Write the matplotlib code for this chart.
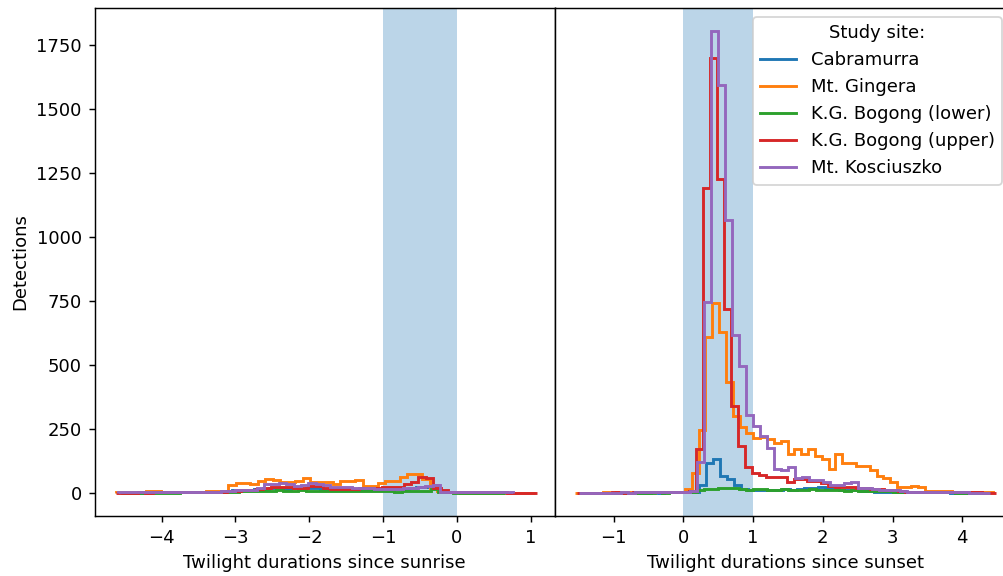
import numpy as np
import matplotlib
matplotlib.use("Agg")
import matplotlib.pyplot as plt
from matplotlib.lines import Line2D

sites = ["Cabramurra", "Mt. Gingera", "K.G. Bogong (lower)",
         "K.G. Bogong (upper)", "Mt. Kosciuszko"]
colors = ["C0", "C1", "C2", "C3", "C4"]

# histogram bin starts / widths per site (sunrise panel, sunset panel)
sunrise_start = [-4.55, -4.62, -4.55, -4.62, -4.59]
sunrise_width = [0.1, 0.1013, 0.1, 0.1, 0.0991]
sunset_start = [-1.47, -1.55, -1.5, -1.52, -1.5]
sunset_width = [0.1, 0.0982, 0.1, 0.1, 0.1]

# detections per bin, relative to sunrise
rise_cabramurra = [1, 1, 1, 1, 2, 2, 2, 2, 2, 3, 3, 3, 4, 5,
                   6, 10, 12, 12, 14, 16, 20, 18, 16, 18, 16, 18, 20, 16, 15,
                   14, 14, 13, 14, 12, 13, 12, 12, 14, 16, 18, 22, 25, 31, 8,
                   3, 2, 2, 2, 1, 1, 1, 1, 1]
rise_gingera = [2, 2, 3, 3, 6, 8, 5, 3, 3, 4, 3, 5, 8, 8, 6,
                31, 40, 40, 35, 48, 55, 51, 42, 42, 48, 57, 42, 42, 42, 35,
                48, 48, 51, 29, 29, 40, 48, 48, 64, 74, 74, 53, 20, 8, 3,
                2, 1, 1, 1, 1, 1, 1, 1, 1, 1, 1]
rise_bogong_lower = [0, 0, 1, 1, 1, 1, 1, 1, 2, 2, 2, 3, 3, 4, 4,
                     5, 6, 6, 7, 8, 9, 10, 9, 8, 10, 9, 8, 9, 7, 8, 7, 6, 7,
                     6, 8, 7, 6, 5, 6, 7, 8, 9,
                     14, 3, 2, 1, 1, 1, 1, 1, 0, 0]
rise_bogong_upper = [1, 1, 1, 2, 1, 2, 2, 2, 2, 3, 3, 3, 4, 5, 5, 6,
                     8, 10, 12, 15, 18, 25, 22, 22, 18, 18, 27, 27, 18, 14,
                     14, 14, 14, 18, 18, 18, 22, 22, 22, 34, 44, 61, 60, 18,
                     12, 5, 3, 3, 2, 2, 2, 2, 2, 1, 1, 1, 1]
rise_kosciuszko = [2, 2, 2, 3, 3, 3, 2, 3, 3, 3, 3, 4, 4, 5, 6,
                   8, 10, 12, 12, 18, 35, 35, 40, 34, 28, 31, 38, 35, 30, 22,
                   22, 22, 18, 18, 18, 14, 14, 14, 14, 18, 18, 25, 29, 30, 5,
                   3, 3, 3, 2, 2, 2, 2, 2, 2]

# detections per bin, relative to sunset
set_cabramurra = [0, 0, 1, 0, 1, 1, 1, 1, 1, 1, 2, 1, 2, 2, 2, 2,
                  3, 31, 116, 131, 66, 53, 31, 14, 10, 10, 12, 10, 12, 14,
                  12, 14, 18, 20, 22, 18, 14, 12, 12, 10, 8, 6, 5, 5, 4, 4,
                  3, 3, 3, 2, 2, 2, 2, 1, 1, 1, 1, 1]
set_gingera = [1, 1, 1, 1, 2, 1, 2, 2, 1, 2, 2, 3, 2, 3, 3, 5,
               14, 79, 246, 611, 742, 630, 433, 300, 259, 234, 214, 220, 210,
               197, 203, 152, 172, 152, 172, 146, 133, 92, 152, 116, 116, 105,
               105, 90, 68, 57, 44, 22, 22, 27, 22, 9, 9, 6, 6, 4, 4, 3, 3,
               2, 2]
set_bogong_lower = [0, 0, 0, 1, 0, 1, 1, 1, 1, 1, 1, 2, 1, 2, 2,
                    2, 4, 10, 14, 16, 18, 20, 18, 15, 12, 14, 15, 12, 10, 14,
                    12, 10, 13, 15, 11, 13, 10, 12, 9, 11, 8, 9, 7, 6, 6, 5,
                    4, 4, 3, 3, 3, 2, 2, 2, 1, 1, 1, 1, 1]
set_bogong_upper = [1, 1, 1, 1, 1, 2, 1, 1, 2, 2, 2, 2, 3, 3, 4, 5,
                    8, 171, 1193, 1698, 1226, 717, 340, 184, 103, 79, 70, 64,
                    61, 64, 44, 53, 53, 48, 48, 38, 27, 25, 25, 25, 18, 18, 16,
                    16, 12, 12, 8, 5, 5, 5, 4, 3, 3, 3, 2, 2, 2, 2, 1, 1]
set_kosciuszko = [1, 1, 1, 1, 1, 1, 2, 1, 2, 2, 2, 2, 3, 3, 3, 4,
                  6, 120, 745, 1805, 1596, 1068, 617, 495, 305, 262, 222, 175,
                  95, 90, 100, 57, 64, 51, 52, 44, 31, 31, 38, 44, 18, 18, 16,
                  12, 12, 12, 8, 5, 4, 4, 3, 3, 3, 2, 2, 2, 1, 1, 1]

sunrise_counts = [rise_cabramurra, rise_gingera, rise_bogong_lower,
                  rise_bogong_upper, rise_kosciuszko]
sunset_counts = [set_cabramurra, set_gingera, set_bogong_lower,
                 set_bogong_upper, set_kosciuszko]

fig = plt.figure(figsize=(1003 / 130, 576 / 130), dpi=130)
ax1 = fig.add_axes([94.5 / 1003, 60 / 576, 460.5 / 1003, 508 / 576])
ax2 = fig.add_axes([555 / 1003, 60 / 576, 461 / 1003, 508 / 576], sharey=ax1)

ax1.axvspan(-1, 0, color="C0", alpha=0.3, lw=0)
ax2.axvspan(0, 1, color="C0", alpha=0.3, lw=0)

for i in range(len(sites)):
    c = np.array(sunrise_counts[i])
    edges = sunrise_start[i] + sunrise_width[i] * np.arange(len(c) + 1)
    ax1.stairs(c, edges, color=colors[i], lw=1.6)
    c = np.array(sunset_counts[i])
    edges = sunset_start[i] + sunset_width[i] * np.arange(len(c) + 1)
    ax2.stairs(c, edges, color=colors[i], lw=1.6)

ax1.set_xlim(-4.91, 1.33)
ax2.set_xlim(-1.84, 4.77)
ax1.set_ylim(-90, 1895)
ax1.set_yticks(np.arange(0, 1751, 250))
ax2.tick_params(axis="y", left=False, right=False, labelleft=False)

ax1.set_ylabel("Detections")
ax1.set_xlabel("Twilight durations since sunrise")
ax2.set_xlabel("Twilight durations since sunset")

handles = [Line2D([], [], color=c, lw=1.6) for c in colors]
ax2.legend(handles, sites, title="Study site:", loc="upper right",
           bbox_to_anchor=(0.989, 1.0))

fig.savefig("out.png", dpi=130)
